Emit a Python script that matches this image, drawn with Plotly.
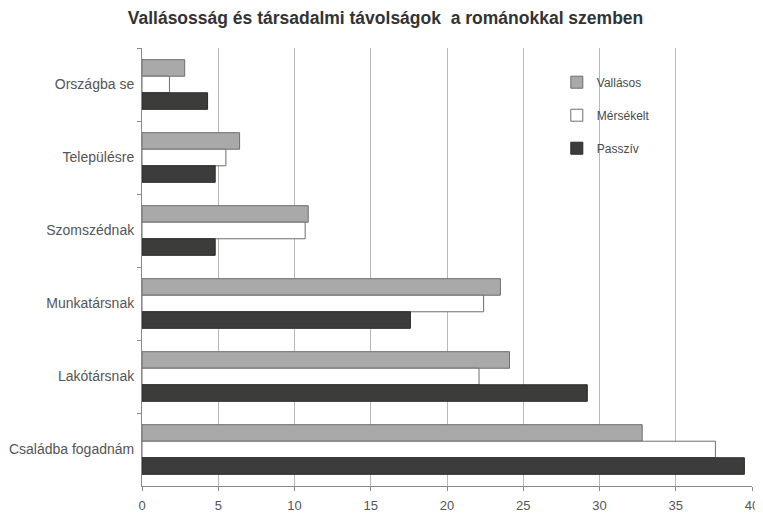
import plotly.graph_objects as go

categories = [
    "Országba se",
    "Településre",
    "Szomszédnak",
    "Munkatársnak",
    "Lakótársnak",
    "Családba fogadnám",
]
vallasos = [2.8, 6.4, 10.9, 23.5, 24.1, 32.8]
mersekelt = [1.8, 5.5, 10.7, 22.4, 22.1, 37.6]
passziv = [4.3, 4.8, 4.8, 17.6, 29.2, 39.5]

series = [
    ("Vallásos", vallasos, "#a9a9a9", "#6e6e6e"),
    ("Mérsékelt", mersekelt, "#ffffff", "#6e6e6e"),
    ("Passzív", passziv, "#3c3d3b", "#2a2a2a"),
]

fig = go.Figure()
for name, values, fill, edge in series:
    fig.add_trace(
        go.Bar(
            x=values,
            y=categories,
            orientation="h",
            name=name,
            legendgroup=name,
            marker={"color": fill, "line": {"color": edge, "width": 1}},
        )
    )

# the page body adds an 8px offset, so the figure is 8px smaller than the window
font = "Liberation Sans, Arial, sans-serif"
fig.update_layout(
    width=755,
    height=507,
    margin={"l": 134, "r": 11, "t": 40, "b": 29},
    paper_bgcolor="white",
    plot_bgcolor="white",
    barmode="group",
    bargap=0.32,
    bargroupgap=0,
    font={"family": font, "size": 14, "color": "#555555"},
    title={
        "text": "<b>Vallásosság és társadalmi távolságok  a románokkal szemben</b>",
        "x": 0.5,
        "xanchor": "center",
        "y": 0.98,
        "yanchor": "middle",
        "font": {"family": font, "size": 17.5, "color": "#333333"},
    },
    legend={
        "x": 0.68,
        "y": 0.955,
        "xanchor": "left",
        "yanchor": "top",
        "bgcolor": "rgba(255,255,255,0)",
        "font": {"size": 12, "color": "#4a4a4a"},
        "traceorder": "grouped",
        "tracegroupgap": 14,
        "itemwidth": 30,
    },
    showlegend=True,
)
fig.update_xaxes(
    range=[0, 40],
    dtick=5,
    automargin=False,
    showgrid=True,
    gridcolor="#b8b8b8",
    gridwidth=1,
    showline=True,
    linecolor="#8a8a8a",
    ticks="outside",
    ticklen=4,
    tickcolor="#8a8a8a",
    zeroline=False,
    ticklabelstandoff=3,
    tickfont={"size": 13, "color": "#555555"},
)
fig.update_yaxes(
    autorange="reversed",
    automargin=False,
    showline=True,
    linecolor="#8a8a8a",
    ticks="outside",
    tickson="boundaries",
    ticklen=4,
    tickcolor="#8a8a8a",
    showgrid=False,
    ticklabelstandoff=4,
    tickfont={"size": 14, "color": "#555555"},
)

fig.write_html("out.html")
